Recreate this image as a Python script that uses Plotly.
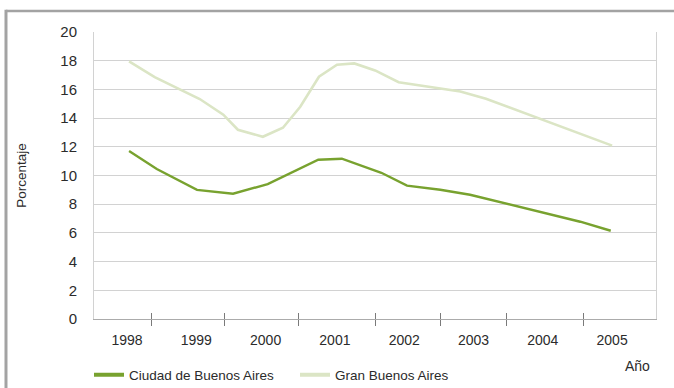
import plotly.graph_objects as go

# Decimal-year positions of each survey reading and the rate (%) at that date
ciudad_fecha = [1998.03, 1998.43, 1999.01, 1999.53, 2000.03, 2000.76, 2001.10,
                2001.67, 2002.04, 2002.52, 2002.95, 2003.47, 2004.00, 2004.54, 2004.98]
ciudad_pct = [11.7, 10.45, 9.0, 8.73, 9.4, 11.1, 11.17,
              10.19, 9.29, 9.01, 8.66, 8.03, 7.41, 6.78, 6.15]

gba_fecha = [1998.03, 1998.40, 1999.05, 1999.39, 1999.60, 1999.96, 2000.25, 2000.50,
             2000.77, 2001.03, 2001.28, 2001.58, 2001.92, 2002.81, 2003.18, 2005.00]
gba_pct = [17.95, 16.85, 15.33, 14.24, 13.19, 12.7, 13.33, 14.79,
           16.88, 17.72, 17.81, 17.32, 16.5, 15.86, 15.35, 12.08]

anios = [1998, 1999, 2000, 2001, 2002, 2003, 2004, 2005]
anio_labels = ["1998", "1999", "2000", "2001", "2002", "2003", "2004", "2005"]
# tick marks separating the year columns
separadores = [1998.36, 1999.41, 2000.47, 2001.58, 2002.52, 2003.47, 2004.58]

series_names = ["Ciudad de Buenos Aires", "Gran Buenos Aires"]
VERDE = "#78a22f"
CLARO = "#dbe5c5"
FONT = "Liberation Sans Narrow, Arial Narrow, Liberation Sans, Arial, sans-serif"
TXT = "#2b2b2b"
XR = [1997.524, 2005.633]

fig = go.Figure()
fig.add_trace(go.Scatter(x=gba_fecha, y=gba_pct, mode="lines", showlegend=False,
                         line=dict(color=CLARO, width=2.6), hoverinfo="skip"))
fig.add_trace(go.Scatter(x=ciudad_fecha, y=ciudad_pct, mode="lines", showlegend=False,
                         line=dict(color=VERDE, width=2.4), hoverinfo="skip"))
# legend entries with a heavier swatch
fig.add_trace(go.Scatter(x=[None], y=[None], mode="lines", name=series_names[0],
                         line=dict(color=VERDE, width=4)))
fig.add_trace(go.Scatter(x=[None], y=[None], mode="lines", name=series_names[1],
                         line=dict(color=CLARO, width=4)))
# helper traces so the tick-only overlay axes get drawn
fig.add_trace(go.Scatter(x=[None], y=[None], xaxis="x2", showlegend=False))
fig.add_trace(go.Scatter(x=[None], y=[None], xaxis="x3", showlegend=False))

fig.update_layout(
    width=674, height=388,
    margin=dict(l=94, r=18, t=32, b=69, autoexpand=False),
    paper_bgcolor="white", plot_bgcolor="white",
    font=dict(family=FONT, size=14, color=TXT),
    xaxis=dict(range=XR, tickmode="array", tickvals=anios, ticktext=anio_labels,
               showgrid=False, zeroline=False, showline=True, linecolor="#ababab",
               linewidth=1, ticks="", ticklabelstandoff=8,
               tickfont=dict(family=FONT, size=14, color=TXT)),
    xaxis2=dict(range=XR, overlaying="x", anchor="y", tickmode="array",
                tickvals=separadores, showticklabels=False, ticks="outside",
                ticklen=6, tickcolor="#7a7a7a", tickwidth=1, showgrid=False,
                zeroline=False, showline=False),
    xaxis3=dict(range=XR, overlaying="x", anchor="y", tickmode="array",
                tickvals=separadores, showticklabels=False, ticks="inside",
                ticklen=6, tickcolor="#7a7a7a", tickwidth=1, showgrid=False,
                zeroline=False, showline=False),
    yaxis=dict(range=[0, 20], dtick=2, showgrid=True, gridcolor="#d2d2d2", gridwidth=1,
               zeroline=False, showline=True, linecolor="#d2d2d2", mirror=True,
               ticks="", ticklabelstandoff=13,
               tickfont=dict(family=FONT, size=15, color=TXT),
               title=dict(text="Porcentaje", standoff=30,
                          font=dict(family=FONT, size=13.5, color=TXT))),
    legend=dict(orientation="h", x=-0.0089, xanchor="left", y=-0.195, yanchor="middle",
                entrywidth=161, entrywidthmode="pixels", itemwidth=30,
                font=dict(family=FONT, size=13.5, color=TXT), bgcolor="rgba(0,0,0,0)"),
    annotations=[dict(text="Año", xref="paper", yref="paper", x=0.967, y=-0.1638,
                      xanchor="center", yanchor="middle", showarrow=False,
                      font=dict(family=FONT, size=14, color=TXT))],
    shapes=[
        dict(type="line", xref="paper", yref="paper", x0=-0.1566, x1=1.04,
             y0=1.0732, y1=1.0732, line=dict(color="#a3a3a3", width=2.5)),
        dict(type="line", xref="paper", yref="paper", x0=-0.1566, x1=-0.1566,
             y0=1.0775, y1=-0.25, line=dict(color="#a3a3a3", width=3)),
    ],
)

fig.write_html("out.html")
